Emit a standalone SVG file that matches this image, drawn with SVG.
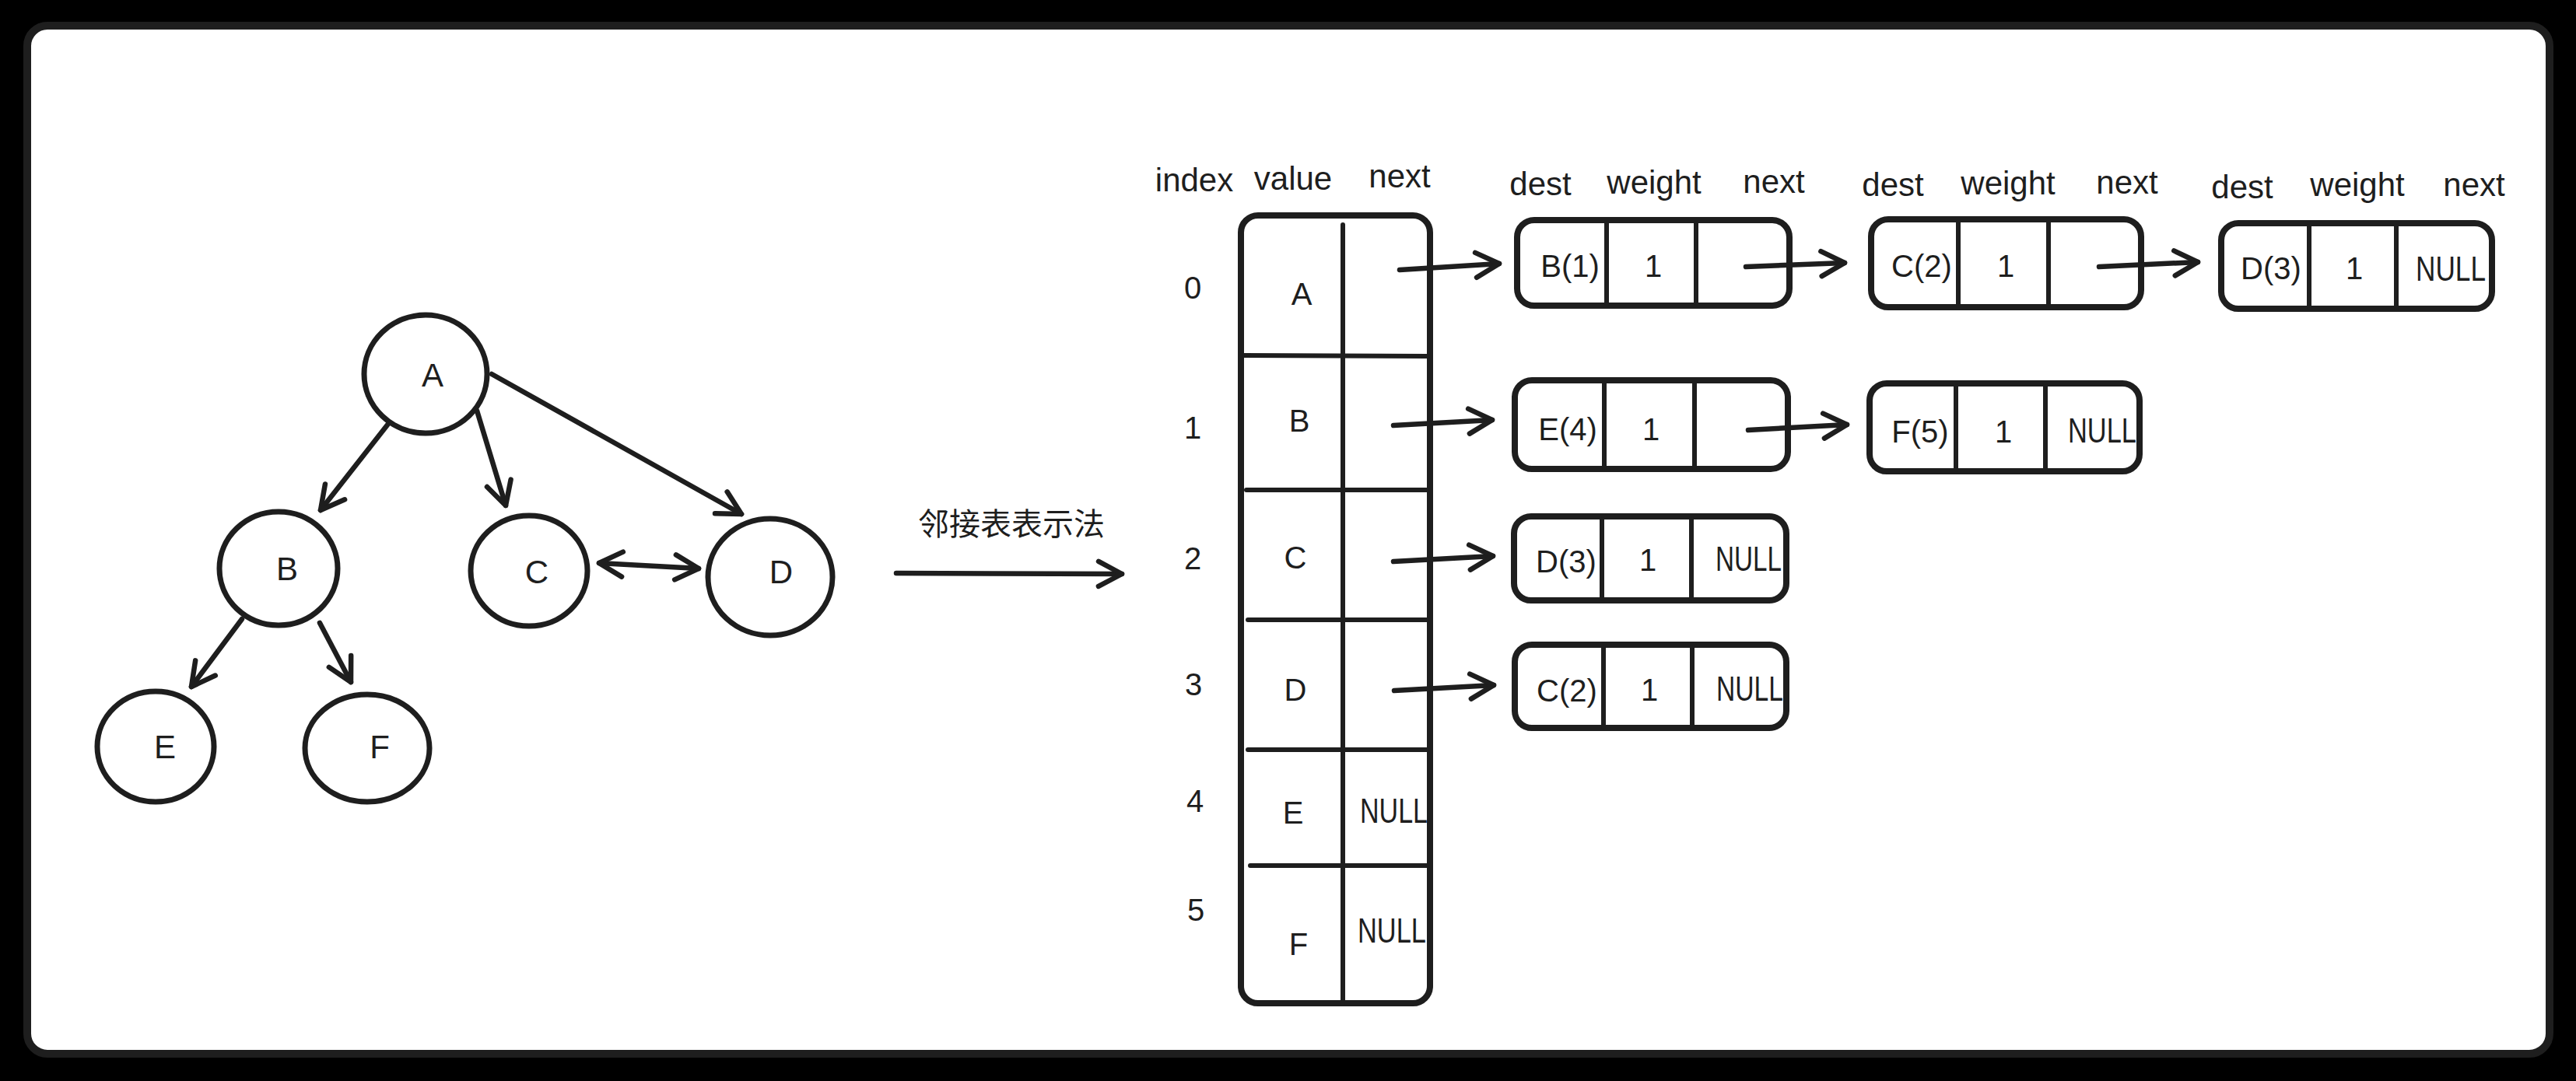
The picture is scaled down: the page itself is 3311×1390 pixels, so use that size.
<svg xmlns="http://www.w3.org/2000/svg" width="3311" height="1390" viewBox="0 0 3311 1390">
<defs>
<style>
.ln{stroke:#1e1e1e;fill:none;stroke-linecap:round;stroke-linejoin:round}
.node{stroke-width:7}
.box{stroke-width:8}
.div{stroke-width:6}
.edge{stroke-width:6.5;marker-end:url(#ah)}
.t{font-family:"Liberation Sans","DejaVu Sans",sans-serif;fill:#1e1e1e;font-size:40px;text-anchor:middle}
.h{font-size:42px}
.nl{font-size:44px;text-anchor:start}
.cjk{font-family:"Noto Sans CJK SC","Noto Sans",sans-serif;fill:#1e1e1e;font-size:40px;text-anchor:middle}
</style>
<marker id="ah" markerUnits="userSpaceOnUse" markerWidth="44" markerHeight="44" viewBox="-36 -22 44 44" refX="0" refY="0" orient="auto-start-reverse" overflow="visible">
<path d="M-30,-16 L0,0 L-30,16" fill="none" stroke="#1e1e1e" stroke-width="6.5" stroke-linecap="round" stroke-linejoin="round"/>
</marker>
</defs>
<rect x="0" y="0" width="3311" height="1390" fill="#000"/>
<rect x="35" y="33" width="3242" height="1322" rx="26" fill="#fff" stroke="#1e1e1e" stroke-width="10"/>

<g id="node-A"><ellipse class="ln node" cx="547" cy="481" rx="79" ry="76"/><text class="t h" x="556" y="497">A</text></g>
<g id="node-B"><ellipse class="ln node" cx="358" cy="731" rx="76" ry="73"/><text class="t h" x="369" y="746">B</text></g>
<g id="node-C"><ellipse class="ln node" cx="680" cy="734" rx="75" ry="71"/><text class="t h" x="690" y="750">C</text></g>
<g id="node-D"><ellipse class="ln node" cx="990" cy="742" rx="80" ry="75"/><text class="t h" x="1004" y="750">D</text></g>
<g id="node-E"><ellipse class="ln node" cx="200" cy="960" rx="75" ry="71"/><text class="t h" x="212" y="975">E</text></g>
<g id="node-F"><ellipse class="ln node" cx="472" cy="962" rx="80" ry="69"/><text class="t h" x="488" y="975">F</text></g>

<g id="label-transform"><text class="cjk" x="1300" y="688">邻接表表示法</text></g>

<g id="table-headers">
<text class="t h" x="1535" y="246">index</text>
<text class="t h" x="1662" y="244">value</text>
<text class="t h" x="1799" y="241">next</text>
</g>
<g id="index-labels">
<text class="t" x="1533" y="384">0</text>
<text class="t" x="1533" y="564">1</text>
<text class="t" x="1533" y="732">2</text>
<text class="t" x="1534" y="894">3</text>
<text class="t" x="1536" y="1044">4</text>
<text class="t" x="1537" y="1184">5</text>
</g>
<g id="vertex-table">
<rect class="ln box" x="1595" y="277" width="243" height="1013" rx="22"/>
<line class="ln div" x1="1726" y1="289" x2="1726" y2="1290"/>
<line class="ln div" x1="1599" y1="457" x2="1834" y2="458"/>
<line class="ln div" x1="1602" y1="630" x2="1834" y2="630"/>
<line class="ln div" x1="1604" y1="797" x2="1834" y2="797"/>
<line class="ln div" x1="1604" y1="964" x2="1834" y2="964"/>
<line class="ln div" x1="1607" y1="1113" x2="1834" y2="1113"/>
<text class="t" x="1673" y="392">A</text>
<text class="t" x="1670" y="555">B</text>
<text class="t" x="1665" y="731">C</text>
<text class="t" x="1665" y="901">D</text>
<text class="t" x="1662" y="1059">E</text>
<text class="t" x="1669" y="1228">F</text>
<text class="t nl" x="1748" y="1058" textLength="87" lengthAdjust="spacingAndGlyphs">NULL</text>
<text class="t nl" x="1745" y="1212" textLength="88" lengthAdjust="spacingAndGlyphs">NULL</text>
</g>

<g id="list-headers">
<text class="t h" x="1980" y="251">dest</text>
<text class="t h" x="2126" y="249">weight</text>
<text class="t h" x="2280" y="248">next</text>
<text class="t h" x="2433" y="252">dest</text>
<text class="t h" x="2581" y="250">weight</text>
<text class="t h" x="2734" y="249">next</text>
<text class="t h" x="2882" y="255">dest</text>
<text class="t h" x="3030" y="252">weight</text>
<text class="t h" x="3180" y="252">next</text>
</g>

<g id="edge-A-B1">
<rect class="ln box" x="1950" y="283" width="350" height="110" rx="22"/>
<line class="ln div" x1="2065" y1="287" x2="2065" y2="391"/>
<line class="ln div" x1="2180" y1="287" x2="2180" y2="391"/>
<text class="t" x="2018" y="356">B(1)</text><text class="t" x="2125" y="356">1</text>
</g>
<g id="edge-A-C2">
<rect class="ln box" x="2405" y="282" width="347" height="113" rx="22"/>
<line class="ln div" x1="2517" y1="286" x2="2517" y2="393"/>
<line class="ln div" x1="2633" y1="286" x2="2633" y2="393"/>
<text class="t" x="2470" y="356">C(2)</text><text class="t" x="2578" y="356">1</text>
</g>
<g id="edge-A-D3">
<rect class="ln box" x="2855" y="287" width="348" height="110" rx="22"/>
<line class="ln div" x1="2968" y1="291" x2="2968" y2="395"/>
<line class="ln div" x1="3080" y1="291" x2="3080" y2="395"/>
<text class="t" x="2919" y="359">D(3)</text><text class="t" x="3026" y="359">1</text>
<text class="t nl" x="3105" y="361" textLength="90" lengthAdjust="spacingAndGlyphs">NULL</text>
</g>
<g id="edge-B-E4">
<rect class="ln box" x="1947" y="489" width="351" height="114" rx="22"/>
<line class="ln div" x1="2062" y1="493" x2="2062" y2="601"/>
<line class="ln div" x1="2178" y1="493" x2="2178" y2="601"/>
<text class="t" x="2015" y="566">E(4)</text><text class="t" x="2122" y="566">1</text>
</g>
<g id="edge-B-F5">
<rect class="ln box" x="2403" y="493" width="347" height="113" rx="22"/>
<line class="ln div" x1="2514" y1="497" x2="2514" y2="604"/>
<line class="ln div" x1="2629" y1="497" x2="2629" y2="604"/>
<text class="t" x="2468" y="569">F(5)</text><text class="t" x="2575" y="569">1</text>
<text class="t nl" x="2658" y="569" textLength="88" lengthAdjust="spacingAndGlyphs">NULL</text>
</g>
<g id="edge-C-D3">
<rect class="ln box" x="1946" y="664" width="350" height="108" rx="22"/>
<line class="ln div" x1="2059" y1="668" x2="2059" y2="770"/>
<line class="ln div" x1="2174" y1="668" x2="2174" y2="770"/>
<text class="t" x="2013" y="736">D(3)</text><text class="t" x="2118" y="734">1</text>
<text class="t nl" x="2205" y="734" textLength="85" lengthAdjust="spacingAndGlyphs">NULL</text>
</g>
<g id="edge-D-C2">
<rect class="ln box" x="1947" y="829" width="349" height="107" rx="22"/>
<line class="ln div" x1="2061" y1="833" x2="2061" y2="934"/>
<line class="ln div" x1="2175" y1="833" x2="2175" y2="934"/>
<text class="t" x="2014" y="902">C(2)</text><text class="t" x="2120" y="901">1</text>
<text class="t nl" x="2206" y="901" textLength="86" lengthAdjust="spacingAndGlyphs">NULL</text>
</g>

<g id="connectors">
<line class="ln edge" x1="499" y1="545" x2="412" y2="656"/>
<line class="ln edge" x1="613" y1="528" x2="650" y2="650"/>
<line class="ln edge" x1="632" y1="481" x2="953" y2="661"/>
<line class="ln edge" x1="770" y1="724" x2="898" y2="731" style="marker-start:url(#ah)"/>
<line class="ln edge" x1="311" y1="796" x2="246" y2="883"/>
<line class="ln edge" x1="411" y1="801" x2="451" y2="877"/>
<line class="ln edge" x1="1152" y1="737" x2="1442" y2="738"/>
<line class="ln edge" x1="1799" y1="347" x2="1927" y2="339"/>
<line class="ln edge" x1="2244" y1="343" x2="2371" y2="338"/>
<line class="ln edge" x1="2698" y1="343" x2="2825" y2="337"/>
<line class="ln edge" x1="1791" y1="547" x2="1918" y2="540"/>
<line class="ln edge" x1="2247" y1="553" x2="2374" y2="546"/>
<line class="ln edge" x1="1791" y1="722" x2="1919" y2="715"/>
<line class="ln edge" x1="1792" y1="888" x2="1920" y2="881"/>
</g>
</svg>
